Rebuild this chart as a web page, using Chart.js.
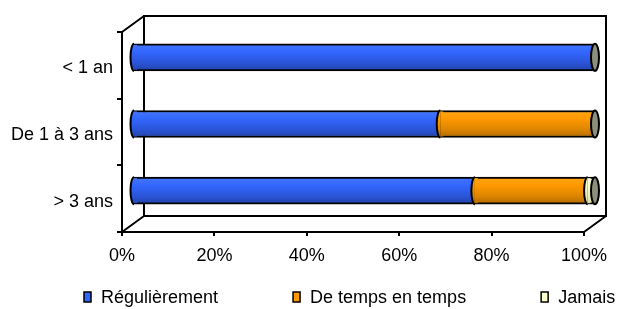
<!DOCTYPE html>
<html>
<head>
<meta charset="utf-8">
<script src="https://cdn.jsdelivr.net/npm/chart.js@4.4.0/dist/chart.umd.min.js"></script>
<style>
  html, body { margin: 0; padding: 0; background: #fff; }
</style>
</head>
<body>
<canvas id="chart" width="618" height="309"></canvas>
<script>
// Data (percent of answers)
const categories = ['< 1 an', 'De 1 à 3 ans', '> 3 ans'];
const seriesLabels = ['Régulièrement', 'De temps en temps', 'Jamais'];
const regulierement = [100, 66.5, 74];
const deTempsEnTemps = [0, 33.5, 24.4];
const jamais = [0, 0, 1.6];
const xTicks = [0, 20, 40, 60, 80, 100];

const FONT = '"Liberation Sans", Arial, sans-serif';
const FONT_SIZE = 18;
const DEPTH_X = 22, DEPTH_Y = -16;      // back wall offset
const SHIFT_X = 11, SHIFT_Y = -8;       // bars sit half way into the box
const BAR_H = 27;
const LINE = 2;

// cylinder shading: light on top, darker underneath
const shades = [
    ['#4577ff', '#3366ff', '#2b55d8', '#2143a8'],
    ['#ffa515', '#ff9900', '#dd8500', '#b26a00'],
    ['#ffffe6', '#ffffcc', '#eeeebb', '#d6d6a6']
];
const capColor = '#8e8e7c';

function cylinderFill(chart, i, yCenter) {
    const g = chart.ctx.createLinearGradient(0, yCenter - BAR_H / 2, 0, yCenter + BAR_H / 2);
    const s = shades[i];
    g.addColorStop(0, s[0]);
    g.addColorStop(0.3, s[1]);
    g.addColorStop(0.7, s[2]);
    g.addColorStop(1, s[3]);
    return g;
}

function makeDataset(label, data, i) {
    return {
        label,
        data,
        backgroundColor: (c) => {
            if (c.type !== 'data' || !c.chart.chartArea) return shades[i][1];
            return cylinderFill(c.chart, i, c.chart.scales.y.getPixelForValue(c.dataIndex));
        },
        borderColor: '#000',
        borderWidth: (c) => (c.raw ? LINE : 0),
        borderSkipped: false,
        barThickness: BAR_H,
        clip: false
    };
}

// 3D box walls, then shift the bars into the box
const boxPlugin = {
    id: 'box3d',
    beforeDatasetsDraw(chart) {
        const { ctx, chartArea: a } = chart;
        ctx.save();
        ctx.strokeStyle = '#000';
        ctx.lineWidth = LINE;
        ctx.beginPath();
        ctx.moveTo(a.left, a.top); ctx.lineTo(a.left + DEPTH_X, a.top + DEPTH_Y);
        ctx.moveTo(a.left, a.bottom); ctx.lineTo(a.left + DEPTH_X, a.bottom + DEPTH_Y);
        ctx.moveTo(a.right, a.bottom); ctx.lineTo(a.right + DEPTH_X, a.bottom + DEPTH_Y);
        ctx.rect(a.left + DEPTH_X, a.top + DEPTH_Y, a.right - a.left, a.bottom - a.top);
        ctx.stroke();
        ctx.restore();

        ctx.save();
        ctx.translate(SHIFT_X, SHIFT_Y);
    },
    afterDatasetsDraw(chart) {
        const ctx = chart.ctx;
        ctx.lineWidth = LINE;
        ctx.strokeStyle = '#000';
        categories.forEach((cat, j) => {
            let last = null;
            chart.data.datasets.forEach((ds, i) => {
                if (!ds.data[j]) return;
                const el = chart.getDatasetMeta(i).data[j].getProps(['x', 'base', 'y', 'height'], true);
                const h = el.height / 2;
                // curved left edge of each segment
                ctx.beginPath();
                ctx.ellipse(el.base, el.y, 3.5, h, 0, Math.PI / 2, Math.PI * 1.5);
                ctx.fillStyle = cylinderFill(chart, i, el.y);
                ctx.fill();
                ctx.stroke();
                ctx.fillRect(el.base, el.y - h + 1, 3, el.height - 2);
                last = el;
            });
            if (last) {
                ctx.beginPath();
                ctx.ellipse(last.x, last.y, 4, last.height / 2, 0, 0, Math.PI * 2);
                ctx.fillStyle = capColor;
                ctx.fill();
                ctx.stroke();
            }
        });
        ctx.restore();
    }
};

// legend laid out like the spreadsheet one, spread over the width
const legendPlugin = {
    id: 'sheetLegend',
    afterDraw(chart) {
        const ctx = chart.ctx;
        ctx.save();
        ctx.font = FONT_SIZE + 'px ' + FONT;
        ctx.textBaseline = 'middle';
        let x = 84;
        const y = 297;
        seriesLabels.forEach((label, i) => {
            ctx.fillStyle = shades[i][1];
            ctx.fillRect(x, y - 5, 7, 10);
            ctx.strokeStyle = '#000';
            ctx.lineWidth = 1.5;
            ctx.strokeRect(x, y - 5, 7, 10);
            ctx.fillStyle = '#000';
            ctx.fillText(label, x + 17, y + 1);
            x += 17 + ctx.measureText(label).width + 75;
        });
        ctx.restore();
    }
};

new Chart(document.getElementById('chart'), {
    type: 'bar',
    data: {
        labels: categories,
        datasets: [
            makeDataset(seriesLabels[0], regulierement, 0),
            makeDataset(seriesLabels[1], deTempsEnTemps, 1),
            makeDataset(seriesLabels[2], jamais, 2)
        ]
    },
    options: {
        indexAxis: 'y',
        responsive: false,
        animation: false,
        layout: { padding: { top: 32, right: 34, left: 0, bottom: 0 } },
        plugins: { legend: { display: false }, tooltip: { enabled: false } },
        scales: {
            x: {
                stacked: true,
                min: 0,
                max: 100,
                afterFit(s) { s.height = 77; },
                afterBuildTicks(s) { s.ticks = xTicks.map(v => ({ value: v })); },
                ticks: {
                    callback: v => v + '%',
                    color: '#000',
                    font: { size: FONT_SIZE, family: FONT },
                    padding: 9,
                    maxRotation: 0
                },
                grid: { drawOnChartArea: false, tickLength: 4, color: '#000', lineWidth: LINE },
                border: { display: true, color: '#000', width: LINE }
            },
            y: {
                stacked: true,
                afterFit(s) { s.width = 122; },
                ticks: { color: '#000', font: { size: FONT_SIZE, family: FONT }, padding: 4, labelOffset: 3 },
                grid: { offset: true, drawOnChartArea: false, tickLength: 5, color: '#000', lineWidth: LINE },
                border: { display: true, color: '#000', width: LINE }
            }
        }
    },
    plugins: [boxPlugin, legendPlugin]
});
</script>
</body>
</html>
